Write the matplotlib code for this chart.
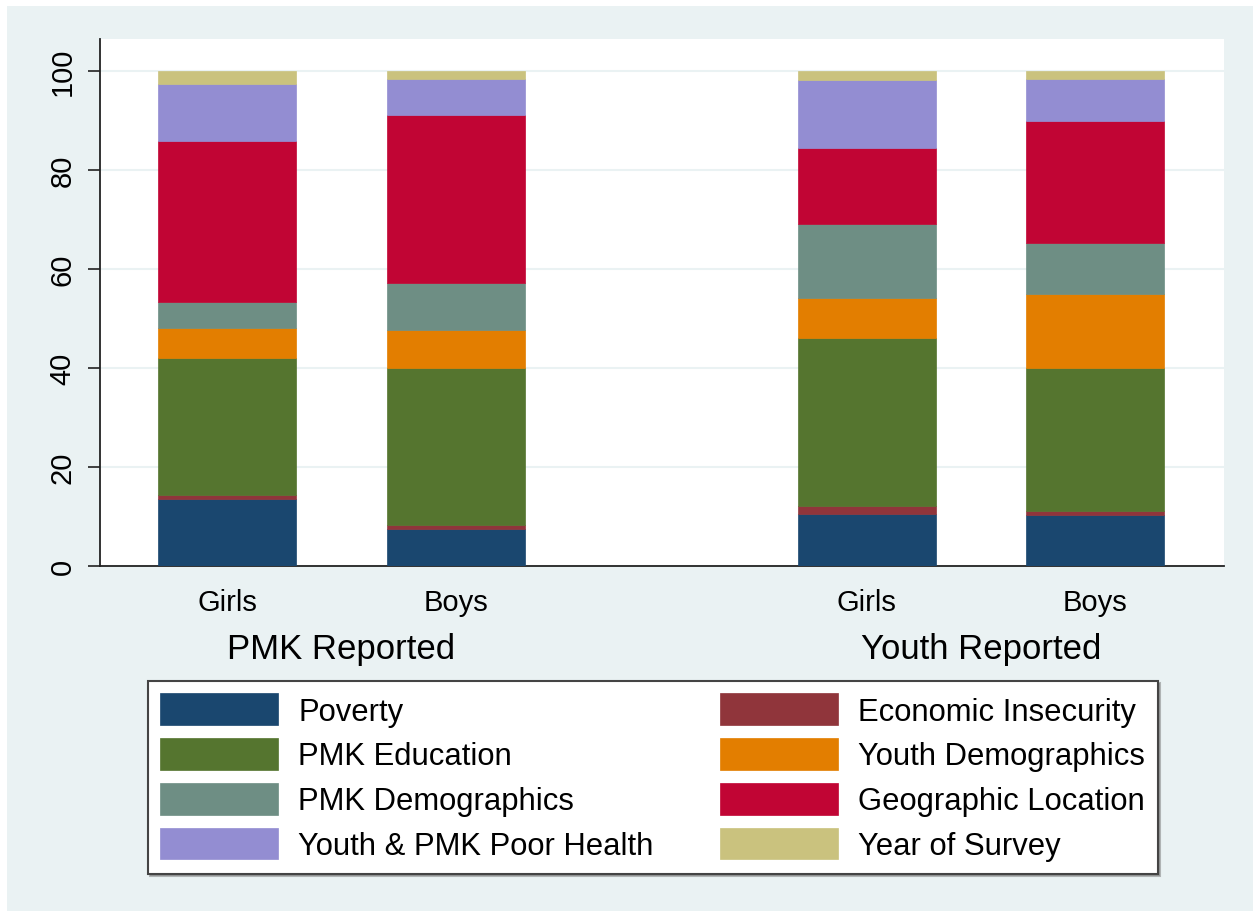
import numpy as np
import matplotlib
matplotlib.use('Agg')
import matplotlib.pyplot as plt
import matplotlib.transforms as mtransforms
from matplotlib.patches import Rectangle

plt.rcParams['font.family'] = ['Liberation Sans', 'DejaVu Sans']

# bars: PMK Girls, PMK Boys, Youth Girls, Youth Boys
bar_labels = ['Girls', 'Boys', 'Girls', 'Boys']
groups = ['PMK Reported', 'Youth Reported']

categories = ['Poverty', 'Economic Insecurity', 'PMK Education', 'Youth Demographics',
              'PMK Demographics', 'Geographic Location', 'Youth & PMK Poor Health',
              'Year of Survey']

poverty = [13.5, 7.5, 10.5, 10.3]
econ_insecurity = [0.9, 0.85, 1.55, 0.8]
pmk_education = [27.6, 31.6, 33.95, 28.9]
youth_demographics = [6.0, 7.8, 8.1, 14.9]
pmk_demographics = [5.4, 9.5, 15.1, 10.4]
geo_location = [32.5, 33.8, 15.3, 24.7]
poor_health = [11.6, 7.4, 13.7, 8.4]
year_survey = [2.5, 1.6, 1.8, 1.6]

series = [poverty, econ_insecurity, pmk_education, youth_demographics,
          pmk_demographics, geo_location, poor_health, year_survey]
colors = ['#1a476f', '#90353b', '#55752f', '#e37e00',
          '#6e8e84', '#c10534', '#938dd2', '#cac27e']

bg = '#eaf2f3'

fig = plt.figure(figsize=(12.53, 9.12), dpi=100)
fig.patch.set_facecolor('white')
fig.patches.append(Rectangle((7 / 1253, 0), 1 - 7 / 1253, 1 - 7 / 912,
                             transform=fig.transFigure, facecolor=bg,
                             edgecolor='none', zorder=-10))

ax = fig.add_axes([100 / 1253, 1 - 567 / 912, 1124 / 1253, 527 / 912])
ax.set_facecolor('white')

x = np.array([0, 1, 2.8, 3.8])
width = 0.604
bottom = np.zeros(len(x))
for vals, c, name in zip(series, colors, categories):
    ax.bar(x, vals, width, bottom=bottom, color=c, edgecolor=c, linewidth=0.5,
           label=name, zorder=3)
    bottom += np.array(vals)

ax.set_xlim(-0.556, 4.363)
ax.set_ylim(0, 106.5)
ax.set_yticks([0, 20, 40, 60, 80, 100])
ax.grid(axis='y', color=bg, linewidth=1.5, zorder=0)
ax.set_axisbelow(True)

for s in ['top', 'right']:
    ax.spines[s].set_visible(False)
ax.spines['left'].set_color('#222222')
ax.spines['bottom'].set_color('#222222')
ax.spines['left'].set_linewidth(1.3)
ax.spines['bottom'].set_linewidth(1.3)

ax.tick_params(axis='y', length=9, width=1.2, color='#222222', labelsize=21, pad=8)
for lab in ax.get_yticklabels():
    lab.set_rotation(90)
    lab.set_va('center')
ax.set_xticks(x)
ax.set_xticklabels(bar_labels)
ax.tick_params(axis='x', length=0, labelsize=21, pad=16)

trans = mtransforms.blended_transform_factory(ax.transData, fig.transFigure)
ax.text((x[0] + x[1]) / 2, 1 - 650 / 912, groups[0], transform=trans,
        ha='center', va='center', fontsize=25)
ax.text((x[2] + x[3]) / 2, 1 - 650 / 912, groups[1], transform=trans,
        ha='center', va='center', fontsize=25)

# legend: order left column then right column
order = [0, 2, 4, 6, 1, 3, 5, 7]
handles, labels = ax.get_legend_handles_labels()
leg = fig.legend([handles[i] for i in order], [labels[i] for i in order],
                 ncol=2, loc='upper left', bbox_to_anchor=(148 / 1253, 1 - 682 / 912),
                 fontsize=22.3, frameon=True, fancybox=False, edgecolor='#444444',
                 framealpha=1, facecolor='white',
                 shadow={'ox': 1.5, 'oy': -1.5, 'color': '#777777'},
                 handlelength=3.8, handleheight=1.18, handletextpad=0.65,
                 columnspacing=2.16, labelspacing=0.38, borderpad=0.4,
                 borderaxespad=0)
leg.get_frame().set_linewidth(1.5)

fig.savefig('out.png', dpi=100, facecolor=fig.get_facecolor())
